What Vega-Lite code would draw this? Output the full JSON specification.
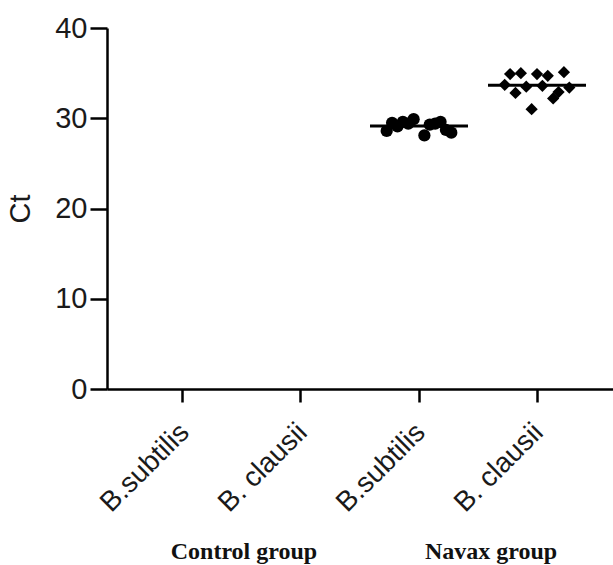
{
  "$schema": "https://vega.github.io/schema/vega-lite/v6.json",
  "width": 506,
  "height": 361,
  "autosize": {"type": "none"},
  "padding": {"left": 107, "top": 28, "right": 0, "bottom": 176},
  "background": "white",
  "config": {
    "view": {"stroke": null},
    "axis": {"grid": false, "domainColor": "black", "tickColor": "black", "labelFont": "Liberation Sans", "titleFont": "Liberation Sans", "labelColor": "#1a1a1a", "titleColor": "#1a1a1a"}
  },
  "data": {
    "values": [
      {"group": "Navax group", "species": "B.subtilis", "cat": "Navax|B.subtilis", "rep": 1, "Ct": 28.6},
      {"group": "Navax group", "species": "B.subtilis", "cat": "Navax|B.subtilis", "rep": 2, "Ct": 29.5},
      {"group": "Navax group", "species": "B.subtilis", "cat": "Navax|B.subtilis", "rep": 3, "Ct": 29.1},
      {"group": "Navax group", "species": "B.subtilis", "cat": "Navax|B.subtilis", "rep": 4, "Ct": 29.6},
      {"group": "Navax group", "species": "B.subtilis", "cat": "Navax|B.subtilis", "rep": 5, "Ct": 29.4},
      {"group": "Navax group", "species": "B.subtilis", "cat": "Navax|B.subtilis", "rep": 6, "Ct": 29.9},
      {"group": "Navax group", "species": "B.subtilis", "cat": "Navax|B.subtilis", "rep": 8, "Ct": 28.1},
      {"group": "Navax group", "species": "B.subtilis", "cat": "Navax|B.subtilis", "rep": 9, "Ct": 29.3},
      {"group": "Navax group", "species": "B.subtilis", "cat": "Navax|B.subtilis", "rep": 10, "Ct": 29.4},
      {"group": "Navax group", "species": "B.subtilis", "cat": "Navax|B.subtilis", "rep": 11, "Ct": 29.6},
      {"group": "Navax group", "species": "B.subtilis", "cat": "Navax|B.subtilis", "rep": 12, "Ct": 28.7},
      {"group": "Navax group", "species": "B.subtilis", "cat": "Navax|B.subtilis", "rep": 13, "Ct": 28.4},
      {"group": "Navax group", "species": "B. clausii", "cat": "Navax|B. clausii", "rep": 1, "Ct": 33.7},
      {"group": "Navax group", "species": "B. clausii", "cat": "Navax|B. clausii", "rep": 2, "Ct": 34.9},
      {"group": "Navax group", "species": "B. clausii", "cat": "Navax|B. clausii", "rep": 3, "Ct": 32.8},
      {"group": "Navax group", "species": "B. clausii", "cat": "Navax|B. clausii", "rep": 4, "Ct": 35.0},
      {"group": "Navax group", "species": "B. clausii", "cat": "Navax|B. clausii", "rep": 5, "Ct": 33.5},
      {"group": "Navax group", "species": "B. clausii", "cat": "Navax|B. clausii", "rep": 6, "Ct": 31.0},
      {"group": "Navax group", "species": "B. clausii", "cat": "Navax|B. clausii", "rep": 7, "Ct": 34.9},
      {"group": "Navax group", "species": "B. clausii", "cat": "Navax|B. clausii", "rep": 8, "Ct": 33.6},
      {"group": "Navax group", "species": "B. clausii", "cat": "Navax|B. clausii", "rep": 9, "Ct": 34.7},
      {"group": "Navax group", "species": "B. clausii", "cat": "Navax|B. clausii", "rep": 10, "Ct": 32.2},
      {"group": "Navax group", "species": "B. clausii", "cat": "Navax|B. clausii", "rep": 11, "Ct": 32.9},
      {"group": "Navax group", "species": "B. clausii", "cat": "Navax|B. clausii", "rep": 12, "Ct": 35.1},
      {"group": "Navax group", "species": "B. clausii", "cat": "Navax|B. clausii", "rep": 13, "Ct": 33.4}
    ]
  },
  "layer": [
    {
      "layer": [
        {
          "mark": {"type": "point", "filled": true, "size": 150, "color": "black", "opacity": 1},
          "encoding": {
            "x": {
              "field": "cat", "type": "nominal",
              "scale": {"domain": ["Control|B.subtilis", "Control|B. clausii", "Navax|B.subtilis", "Navax|B. clausii"], "paddingInner": 0.407, "paddingOuter": 0.3475},
              "axis": {"title": null, "labelExpr": "split(datum.label, '|')[1]", "labelAngle": -45, "labelFontSize": 28, "labelPadding": 16, "labelOffset": -8, "tickSize": 13, "tickWidth": 2.5, "domainWidth": 2.5}
            },
            "xOffset": {"field": "rep", "type": "ordinal", "scale": {"domain": [1, 2, 3, 4, 5, 6, 7, 8, 9, 10, 11, 12, 13]}},
            "y": {
              "field": "Ct", "type": "quantitative",
              "scale": {"domain": [0, 40]},
              "axis": {"title": "Ct", "values": [0, 10, 20, 30, 40], "labelFontSize": 29, "titleFontSize": 29, "titleFontWeight": "normal", "tickSize": 17, "tickWidth": 2.5, "domainWidth": 2.5, "labelPadding": 3, "titlePadding": 19}
            },
            "shape": {"field": "species", "type": "nominal", "scale": {"domain": ["B.subtilis", "B. clausii"], "range": ["circle", "diamond"]}, "legend": null}
          }
        },
        {
          "mark": {"type": "tick", "thickness": 3, "size": 98, "color": "black"},
          "encoding": {
            "x": {"field": "cat", "type": "nominal"},
            "y": {"aggregate": "mean", "field": "Ct", "type": "quantitative"}
          }
        }
      ]
    },
    {
      "mark": {"type": "point", "opacity": 0},
      "encoding": {
        "x": {
          "field": "group", "type": "nominal",
          "scale": {"type": "point", "domain": ["Control group", "Navax group"], "padding": 0.524},
          "axis": {"orient": "bottom", "title": null, "domain": false, "ticks": false, "labelAngle": 0, "labelFont": "Liberation Serif", "labelFontWeight": "bold", "labelFontSize": 24, "labelColor": "#111", "labelPadding": 150, "labelOffset": 7}
        },
        "y": {"field": "Ct", "type": "quantitative"}
      }
    }
  ],
  "resolve": {"scale": {"x": "independent"}, "axis": {"x": "independent"}}
}
